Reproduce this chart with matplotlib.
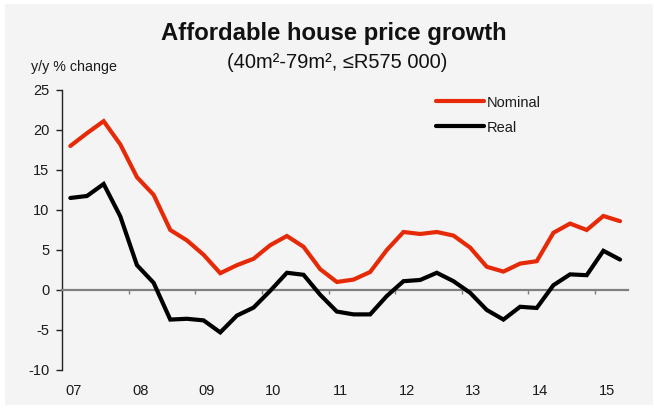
import matplotlib
matplotlib.use("Agg")
import matplotlib.pyplot as plt
from matplotlib.patches import Rectangle

plt.rcParams["font.family"] = ["Liberation Sans", "DejaVu Sans"]
plt.rcParams["axes.unicode_minus"] = False

# Quarterly data, 2007 Q1 .. 2015 Q2
years = ["07", "08", "09", "10", "11", "12", "13", "14", "15"]
nominal = [18.0, 19.6, 21.1, 18.2, 14.1, 11.9, 7.5, 6.2,
           4.4, 2.1, 3.1, 3.9, 5.6, 6.75, 5.4, 2.6,
           1.0, 1.3, 2.25, 5.0, 7.25, 7.0, 7.25, 6.8,
           5.3, 2.9, 2.3, 3.3, 3.6, 7.15, 8.3, 7.5,
           9.25, 8.6]
real = [11.5, 11.75, 13.25, 9.2, 3.1, 0.9, -3.7, -3.6,
        -3.8, -5.3, -3.2, -2.2, -0.1, 2.15, 1.9, -0.6,
        -2.7, -3.05, -3.05, -0.75, 1.1, 1.25, 2.15, 1.1,
        -0.35, -2.5, -3.7, -2.1, -2.25, 0.6, 1.95, 1.85,
        4.9, 3.8]

x = list(range(len(nominal)))

fig = plt.figure(figsize=(6.54, 4.09), dpi=100)
fig.patch.set_facecolor("white")
fig.patches.append(Rectangle((5 / 654, 4 / 409), 648 / 654, 401 / 409,
                             transform=fig.transFigure, facecolor="#f4f4f4",
                             edgecolor="none", zorder=-10))

ax = fig.add_axes([0.0948, 0.0954, 0.866, 0.6846])
ax.set_facecolor("none")
ax.set_zorder(1)

red = "#e62a08"
ax.plot(x, nominal, color=red, lw=3.0, label="Nominal", solid_capstyle="round",
        solid_joinstyle="miter", zorder=3)
ax.plot(x, real, color="black", lw=3.0, label="Real", solid_capstyle="round",
        solid_joinstyle="miter", zorder=3)

ax.set_xlim(-0.5, len(x) - 0.5)
ax.set_ylim(-10, 25)
ax.set_yticks(range(-10, 30, 5))

for s in ["top", "right"]:
    ax.spines[s].set_visible(False)
ax.spines["left"].set_color("#222222")
ax.spines["left"].set_linewidth(1.0)
ax.spines["bottom"].set_position(("data", 0))
ax.spines["bottom"].set_color("#808080")
ax.spines["bottom"].set_linewidth(1.6)

# tick marks between years on the zero line
ax.set_xticks([i * 4 + 3.5 for i in range(len(years) - 1)])
ax.tick_params(axis="x", direction="out", length=3, width=1.0, color="#808080",
               labelbottom=False)
ax.tick_params(axis="y", direction="out", length=4, width=1.0, color="#222222",
               labelsize=10.5, pad=5, labelcolor="#1a1a1a")

# year labels along the bottom of the plot area
sec = ax.secondary_xaxis(0.0)
sec.set_xticks([i * 4 + 0.2 for i in range(len(years))], labels=years)
sec.tick_params(length=0, labelsize=10.5, pad=10, labelcolor="#1a1a1a")
sec.spines["bottom"].set_visible(False)

leg = ax.legend(loc="upper left", bbox_to_anchor=(0.66, 0.98), frameon=False,
                fontsize=10.5, handlelength=3.3, handletextpad=0.2,
                labelspacing=0.75, borderpad=0, borderaxespad=0)
for t in leg.get_texts():
    t.set_color("#1a1a1a")

fig.text(0.511, 0.918, "Affordable house price growth", ha="center", va="center",
         fontsize=17.2, fontweight="bold", color="#111111")
fig.text(0.516, 0.848, "(40m²-79m², ≤R575 000)", ha="center", va="center",
         fontsize=14.5, color="#111111")
fig.text(0.047, 0.836, "y/y % change", ha="left", va="center", fontsize=10.3,
         color="#1a1a1a")

fig.savefig("out.png", dpi=100)
